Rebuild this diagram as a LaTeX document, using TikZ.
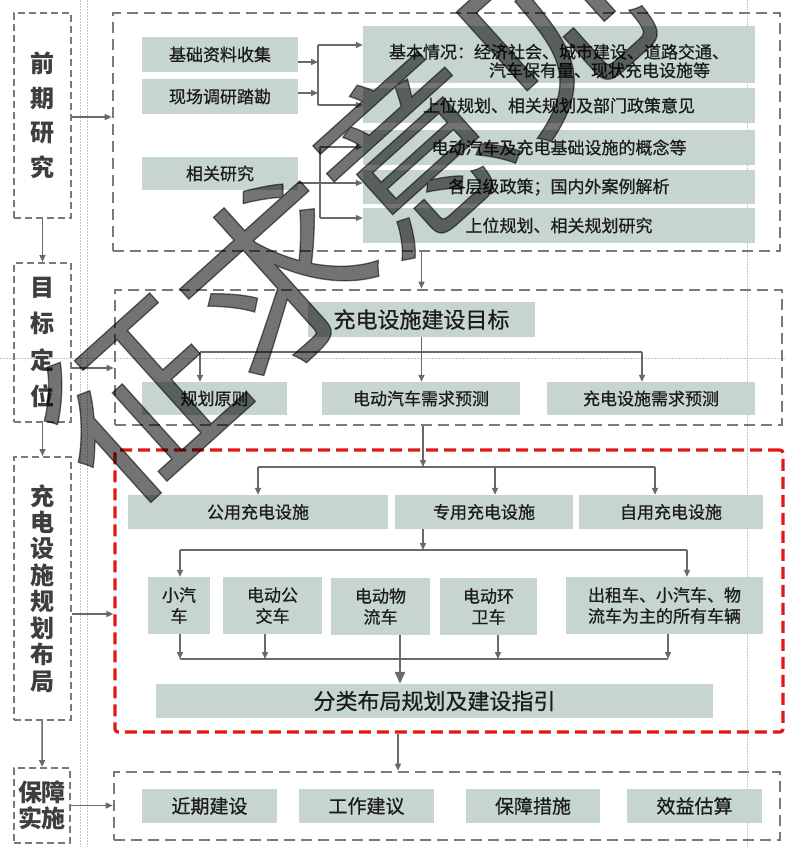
\documentclass[tikz,border=0pt]{standalone}
\usepackage{fontspec}
\setmainfont{Noto Sans CJK SC}
\newfontfamily\medf{Noto Sans CJK SC}[RawFeature={embolden=0.7}]
\usetikzlibrary{arrows.meta}
\definecolor{boxfill}{RGB}{198,214,206}
\definecolor{dgray}{RGB}{122,122,122}
\definecolor{agray}{RGB}{105,105,105}
\definecolor{redA}{RGB}{226,22,22}
\definecolor{txtc}{RGB}{28,28,28}
\definecolor{ltxt}{RGB}{62,62,62}
\tikzset{
  sz/.style 2 args={minimum width=#1pt, minimum height=#2pt},
  gbox/.style={fill=boxfill, inner sep=0pt, text=txtc, align=center, font=\medf\fontsize{17}{21}\selectfont},
  dgbox/.style={draw=dgray, line width=2.6pt, dash pattern=on 11pt off 6pt, inner sep=0pt},
  lbox/.style={draw=dgray, line width=2pt, dash pattern=on 7pt off 4pt, inner sep=0pt, text=ltxt, align=center},
  redbox/.style={draw=redA, line width=3.2pt, dash pattern=on 12pt off 6pt, rounded corners=3pt, inner sep=0pt},
  arr/.style={draw=agray, line width=1.5pt, -{Triangle[length=7pt,width=6pt]}},
  bigarr/.style={draw=agray, line width=2.6pt, -{Triangle[length=12pt,width=10pt]}},
  ln/.style={draw=agray, line width=1.5pt},
  guide/.style={draw=gray!45, line width=0.6pt, dash pattern=on 1.5pt off 1.5pt},
  bigtxt/.style={font=\medf\fontsize{22}{24}\selectfont},
  midtxt/.style={font=\medf\fontsize{19}{21}\selectfont},
}
\begin{document}
\begin{tikzpicture}[x=1pt,y=-1pt]
\fill[white] (0,0) rectangle (786,847);
\useasboundingbox (0,0) rectangle (786,847);
% guide lines
\draw[guide] (80,0) -- (80,847);
\draw[guide] (87,0) -- (87,847);
\draw[guide] (747,0) -- (747,847);
\draw[guide] (0,358) -- (786,358);

% left column
\node[lbox, sz={57}{205}, font=\bfseries\fontsize{24}{34.5}\selectfont] (l1) at (42.5,115.5) {前\\期\\研\\究};
\node[lbox, sz={57}{159}, font=\bfseries\fontsize{24}{36.3}\selectfont] (l2) at (42.5,342.5) {目\\标\\定\\位};
\node[lbox, sz={57}{263}, font=\bfseries\fontsize{24}{26.5}\selectfont] (l3) at (42.5,588.5) {充\\电\\设\\施\\规\\划\\布\\局};
\node[lbox, sz={56}{75}, font=\bfseries\fontsize{24}{26}\selectfont] (l4) at (42,805.5) {保障\\实施};

% main boxes
\node[dgbox, sz={667}{238}] (t) at (446.5,132) {};
\node[dgbox, sz={667}{135}] (m) at (448.5,357.5) {};
\node[redbox, sz={668}{282}] (r) at (449,591) {};
\node[dgbox, sz={666}{68}] (b) at (447,806) {};

% left arrows
\draw[arr] (l1) -- (l2);
\draw[arr] (l2) -- (l3);
\draw[arr] (l3) -- (l4);
\coordinate (l1o) at ([yshift=-1.5pt]l1.east);
\coordinate (l2o) at ([yshift=-25.5pt]l2.east);
\coordinate (l3o) at ([yshift=-25.5pt]l3.east);
\draw[arr] (l1o) -- (l1o -| t.west);
\draw[arr] (l2o) -- (l2o -| m.west);
\draw[arr] (l3o) -- (l3o -| r.west);
\draw[arr] (l4.east) -- (l4.east -| b.west);

% top box
\node[gbox, sz={156}{35}] (a1) at (220,54.5) {基础资料收集};
\node[gbox, sz={156}{35}] (a2) at (220,96.5) {现场调研踏勘};
\node[gbox, sz={156}{33}] (a3) at (220,173.5) {相关研究};
\node[gbox, sz={392}{57}] (b1) at (559,54.5) {};
\node[text=txtc, align=left, inner sep=0pt, font=\medf\fontsize{17}{18.5}\selectfont] (b1t) at (559,61) {基本情况：经济社会、城市建设、道路交通、\\\hspace*{100pt}汽车保有量、现状充电设施等};
\node[gbox, sz={392}{35}] (b2) at (559,105.5) {上位规划、相关规划及部门政策意见};
\node[gbox, sz={392}{35}] (b3) at (559,147.5) {电动汽车及充电基础设施的概念等};
\node[gbox, sz={392}{34}] (b4) at (559,187) {各层级政策；国内外案例解析};
\node[gbox, sz={392}{35}] (b5) at (559,225.5) {上位规划、相关规划研究};

\coordinate (j1) at (318,45);
\coordinate (j2) at (318,105);
\coordinate (j3) at (320,147);
\coordinate (j4) at (320,218);
\draw[ln] (j1) -- (j2);
\draw[ln] (j3) -- (j4);
\coordinate (a1o) at ([yshift=-7.5pt]a1.east);
\coordinate (a2o) at ([yshift=3.5pt]a2.east);
\coordinate (a3o) at ([yshift=-9.5pt]a3.east);
\draw[arr] (a1o) -- (a1o -| j1);
\draw[arr] (a2o) -- (a2o -| j1);
\draw[arr] (j1) -- (j1 -| b1.west);
\draw[arr] (j2) -- (j2 -| b2.west);
\draw[arr] (j3) -- (j3 -| b3.west);
\draw[arr] (a3o) -- (a3o -| b4.west);
\draw[arr] (j4) -- (j4 -| b5.west);

% middle box
\node[gbox, sz={227}{35}, bigtxt] (c0) at (421.5,319.5) {充电设施建设目标};
\node[gbox, sz={145}{33}] (c1) at (214.5,398.5) {规划原则};
\node[gbox, sz={198}{33}] (c2) at (421,398.5) {电动汽车需求预测};
\node[gbox, sz={208}{33}] (c3) at (651,398.5) {充电设施需求预测};
\draw[arr] (c0.north |- t.south) -- (c0.north |- m.north);
\draw[arr] (c0.south) -- (c0.south |- c2.north);
\coordinate (k1) at (200,352);
\coordinate (k2) at (642,352);
\draw[ln] (k1) -- (k2);
\draw[arr] (k1) -- (k1 |- c1.north);
\draw[arr] (k2) -- (k2 |- c3.north);

% red box
\node[gbox, sz={260}{34}] (d1) at (258,512) {公用充电设施};
\node[gbox, sz={178}{34}] (d2) at (484,512) {专用充电设施};
\node[gbox, sz={184}{34}] (d3) at (671,512) {自用充电设施};
\coordinate (h1a) at (258,467);
\coordinate (h1b) at (655,467);
\coordinate (h1c) at (495,467);
\coordinate (h1d) at (423,467);
\draw[ln] (h1a) -- (h1b);
\draw[arr] (h1d |- m.south) -- (h1d);
\draw[arr] (h1a) -- (h1a |- d1.north);
\draw[arr] (h1c) -- (h1c |- d2.north);
\draw[arr] (h1b) -- (h1b |- d3.north);

\node[gbox, sz={62}{57}] (e1) at (179,605.5) {小汽\\车};
\node[gbox, sz={99}{57}] (e2) at (272.5,605.5) {电动公\\交车};
\node[gbox, sz={99}{57}] (e3) at (380.5,606.5) {电动物\\流车};
\node[gbox, sz={97}{57}] (e4) at (488.5,606.5) {电动环\\卫车};
\node[gbox, sz={197}{57}] (e5) at (664.5,605.5) {出租车、小汽车、物\\流车为主的所有车辆};
\coordinate (h2a) at (180,550);
\coordinate (h2b) at (687,550);
\coordinate (h2c) at (423,550);
\draw[ln] (h2a) -- (h2b);
\draw[arr] (h2c |- d2.south) -- (h2c);
\draw[arr] (h2a) -- (h2a |- e1.north);
\draw[arr] (h2b) -- (h2b |- e5.north);

\node[gbox, sz={557}{34}, bigtxt] (f) at (434.5,701) {分类布局规划及建设指引};
\coordinate (h3a) at (180,659);
\coordinate (h3b) at (668,659);
\coordinate (x2) at (265,659);
\coordinate (x3) at (400,659);
\coordinate (x4) at (498,659);
\draw[ln] (h3a) -- (h3b);
\draw[arr] (h3a |- e1.south) -- (h3a);
\draw[arr] (x2 |- e2.south) -- (x2);
\draw[arr] (x4 |- e4.south) -- (x4);
\draw[arr] (h3b |- e5.south) -- (h3b);
\draw[bigarr] (x3 |- e3.south) -- (x3 |- f.north);

% bottom box
\coordinate (rb) at (398,732);
\draw[arr] (rb |- r.south) -- (rb |- b.north);
\node[gbox, sz={135}{34}, midtxt] (g1) at (209.5,806) {近期建设};
\node[gbox, sz={135}{34}, midtxt] (g2) at (366.5,806) {工作建议};
\node[gbox, sz={134}{34}, midtxt] (g3) at (533,806) {保障措施};
\node[gbox, sz={135}{34}, midtxt] (g4) at (694.5,806) {效益估算};

% watermark
\node[rotate=42, text=black, text opacity=0.55, inner sep=0pt, font=\medf\fontsize{185}{185}\selectfont] (wm) at (344,213) {征求意见};
\end{tikzpicture}
\end{document}
